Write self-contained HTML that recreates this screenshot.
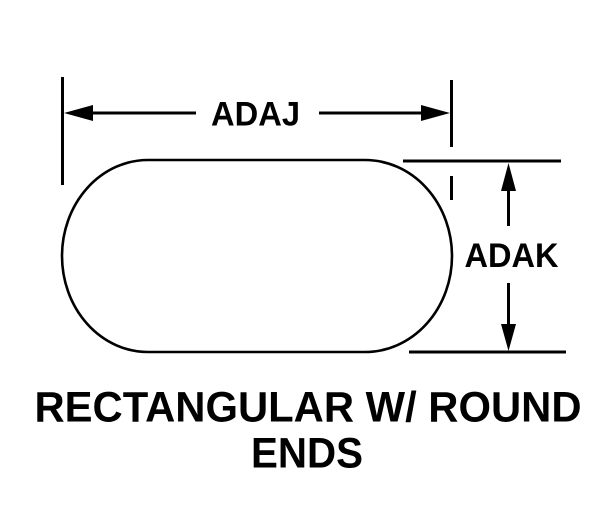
<!DOCTYPE html>
<html><head><meta charset="utf-8"><style>
html,body{margin:0;padding:0;background:#fff;width:612px;height:524px;overflow:hidden}
svg{display:block}
text{font-family:"Liberation Sans",Arial,sans-serif;font-weight:bold;fill:#000;text-anchor:middle}
</style></head><body>
<svg width="612" height="524" viewBox="0 0 612 524" xmlns="http://www.w3.org/2000/svg">
<g fill="none" stroke="#000" stroke-width="3">
<path d="M148 160H365A87 96 0 0 1 365 352H148A86 96 0 0 1 148 160Z" stroke-width="2.6"/>
<path d="M62.500 77V185M451.500 80V147M451.500 176V200M403 161H561M409 352H566"/>
<path d="M90 113H196M319 113H424M508.500 188V226M508.500 283V327"/>
</g>
<g fill="#000">
<path d="M64 113L93 105V121Z"/><path d="M450 113L421 105V121Z"/>
<path d="M508.500 163L501 191H516Z"/><path d="M508.500 351L501 324H516Z"/>
</g>
<text x="255.500" y="125.500" font-size="34" textLength="89" lengthAdjust="spacingAndGlyphs">ADAJ</text>
<text x="511.500" y="267" font-size="34" textLength="94" lengthAdjust="spacingAndGlyphs">ADAK</text>
<text x="308" y="421.500" font-size="43" textLength="547" lengthAdjust="spacingAndGlyphs">RECTANGULAR W/ ROUND</text>
<text x="307" y="467.500" font-size="43" textLength="112" lengthAdjust="spacingAndGlyphs">ENDS</text>
</svg>
</body></html>
